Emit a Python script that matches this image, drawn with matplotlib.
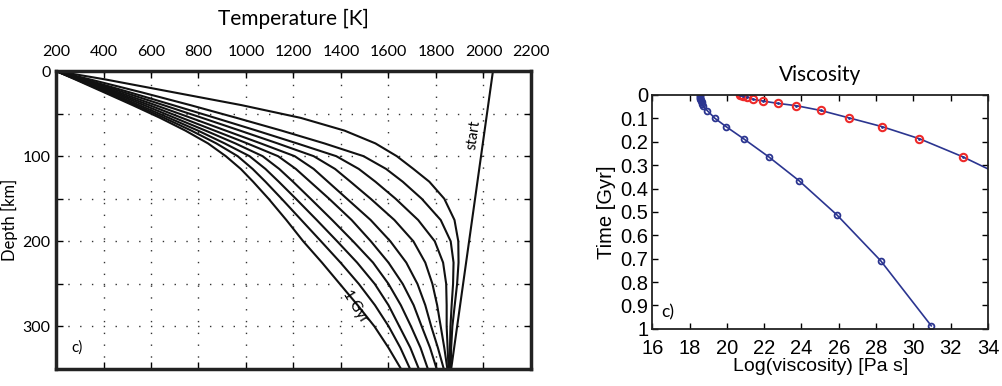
import numpy as np
import matplotlib.pyplot as plt

# ---- temperature profiles (left panel) ----
depth = [0, 10, 25, 40, 55, 70, 85, 100, 115, 130, 150, 175, 200,
         225, 250, 275, 300, 325, 350]

# one list per profile, oldest (1 Gyr) first, youngest last
profiles = [
    [200, 282, 402, 522, 638, 745, 840, 915, 978, 1030, 1095, 1170, 1241,
     1320, 1395, 1470, 1541, 1600, 1653],
    [200, 286, 412, 535, 655, 770, 875, 965, 1028, 1082, 1150, 1233, 1316,
     1398, 1475, 1543, 1601, 1650, 1691],
    [200, 290, 422, 550, 675, 798, 910, 1015, 1082, 1138, 1210, 1298, 1384,
     1468, 1542, 1600, 1646, 1692, 1728],
    [200, 295, 435, 570, 700, 830, 955, 1070, 1140, 1198, 1272, 1363, 1451,
     1535, 1600, 1652, 1695, 1735, 1766],
    [200, 300, 448, 592, 730, 868, 1005, 1135, 1210, 1270, 1350, 1445, 1526,
     1600, 1660, 1706, 1740, 1775, 1803],
    [200, 306, 464, 618, 768, 915, 1062, 1205, 1285, 1345, 1425, 1525, 1608,
     1675, 1722, 1755, 1780, 1808, 1833],
    [200, 314, 485, 652, 815, 975, 1133, 1285, 1375, 1440, 1525, 1625, 1705,
     1755, 1785, 1805, 1820, 1835, 1848],
    [200, 325, 510, 692, 870, 1045, 1215, 1380, 1475, 1545, 1630, 1725, 1795,
     1830, 1843, 1845, 1845, 1849, 1853],
    [200, 345, 560, 765, 960, 1150, 1330, 1495, 1590, 1660, 1740, 1820, 1862,
     1874, 1872, 1866, 1861, 1859, 1858],
    [200, 410, 695, 980, 1230, 1415, 1545, 1635, 1705, 1772, 1835, 1878, 1894,
     1895, 1889, 1879, 1869, 1864, 1862],
]

start_depth = [0, 350]
start_temp = [2040, 1864]

# ---- viscosity (right panel) ----
t_a = [0.0, 0.004, 0.008, 0.012, 0.016, 0.02, 0.026, 0.032, 0.04, 0.049,
       0.067, 0.10, 0.135, 0.188, 0.265, 0.366, 0.512, 0.709, 0.987]
visc_a = [18.55, 18.55, 18.56, 18.57, 18.58, 18.6, 18.62, 18.64, 18.67, 18.72,
          18.95, 19.36, 19.95, 20.91, 22.25, 23.86, 25.89, 28.25, 30.96]

t_b = [0.0, 0.002, 0.004, 0.007, 0.0185, 0.026, 0.036, 0.046, 0.066,
       0.098, 0.135, 0.187, 0.264, 0.366]
visc_b = [20.7, 20.75, 20.85, 21.09, 21.39, 21.93, 22.73, 23.73, 25.02,
          26.55, 28.30, 30.32, 32.64, 35.3]

fig = plt.figure(figsize=(10.02, 3.86), dpi=100)

myriad = ['Lato', 'DejaVu Sans']
arial = ['Liberation Sans', 'DejaVu Sans']

# left panel
ax = fig.add_axes([0.0559, 0.044, 0.474, 0.772])
for T in profiles:
    ax.plot(T, depth, color='#111111', lw=1.5)
ax.plot(start_temp, start_depth, color='#111111', lw=1.5)

ax.set_xlim(200, 2200)
ax.set_ylim(350, 0)
ax.set_xticks(np.arange(200, 2201, 200))
ax.set_yticks(np.arange(0, 351, 50))
ax.set_yticklabels(['0', '', '100', '', '200', '', '300', ''])
ax.xaxis.tick_top()
ax.xaxis.set_label_position('top')
ax.tick_params(direction='in', top=True, bottom=True, left=True, right=True,
               length=5, width=1, labelsize=11.5, pad=4)
ax.tick_params(axis='x', pad=9)
for lab in ax.get_xticklabels() + ax.get_yticklabels():
    lab.set_family(myriad)
ax.grid(True, color='#333333', linestyle=(0, (1, 7.5)), lw=1)
for s in ax.spines.values():
    s.set_linewidth(2.5)
    s.set_color('#222222')
ax.set_xlabel('Temperature [K]', family=myriad, fontsize=15, labelpad=14)
ax.set_ylabel('Depth [km]', family=myriad, fontsize=12, labelpad=3)
ax.text(1960, 75, 'start', family=myriad, fontsize=10.5, rotation=82,
        ha='center', va='center')
ax.text(1460, 277, '1 Gyr', family=myriad, fontsize=10.5, rotation=-58,
        ha='center', va='center')
ax.text(290, 325, 'c)', family=myriad, fontsize=11, ha='center', va='center')

# right panel
bx = fig.add_axes([0.651, 0.148, 0.335, 0.606])
navy = '#2b3590'
bx.plot(visc_a, t_a, color=navy, lw=1.2, marker='o', ms=4.2, mfc='none',
        mec=navy, mew=1.3)
bx.plot(visc_b, t_b, color=navy, lw=1.2)
bx.plot(visc_b, t_b, ls='none', marker='o', ms=5.3, mfc='none',
        mec='#ee2a2a', mew=1.5)
bx.plot(visc_b, t_b, ls='none', marker='.', ms=2, color=navy)

bx.set_xlim(16, 34)
bx.set_ylim(1, 0)
bx.set_xticks(np.arange(16, 35, 2))
bx.set_yticks(np.arange(0, 1.01, 0.1))
bx.set_yticklabels(['0', '0.1', '0.2', '0.3', '0.4', '0.5', '0.6', '0.7',
                    '0.8', '0.9', '1'])
bx.tick_params(direction='in', top=True, bottom=True, left=True, right=True,
               length=4, width=1, labelsize=14.5, pad=3)
bx.tick_params(axis='x', pad=7)
for lab in bx.get_xticklabels() + bx.get_yticklabels():
    lab.set_family(arial)
for s in bx.spines.values():
    s.set_linewidth(1.3)
    s.set_color('#222222')
bx.set_xlabel('Log(viscosity) [Pa s]', family=arial, fontsize=14, labelpad=0)
bx.set_ylabel('Time [Gyr]', family=arial, fontsize=14.5, labelpad=3)
bx.set_title('Viscosity', family=myriad, fontsize=15, pad=10)
bx.text(16.5, 0.93, 'c)', family=myriad, fontsize=12.5, ha='left', va='center')

fig.savefig('out.png', dpi=100)
